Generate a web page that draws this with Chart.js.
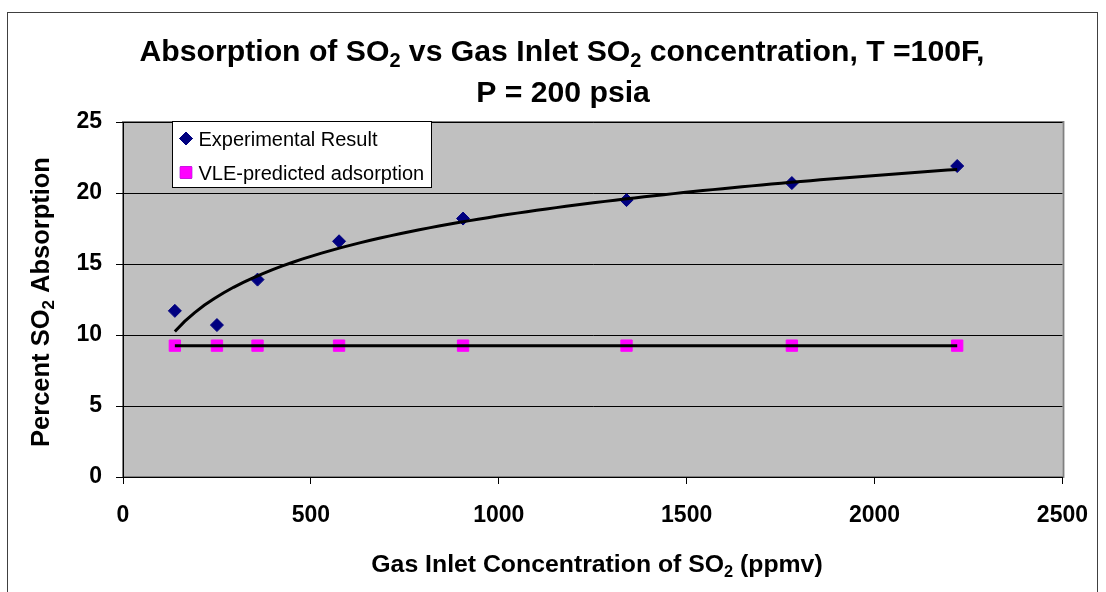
<!DOCTYPE html>
<html>
<head>
<meta charset="utf-8">
<title>Absorption of SO2 vs Gas Inlet SO2 concentration</title>
<script src="https://cdn.jsdelivr.net/npm/chart.js@4.4.1/dist/chart.umd.min.js"></script>
<style>
  html, body { margin: 0; padding: 0; background: #fff; }
  #grafico { display: block; }
</style>
</head>
<body>
<canvas id="grafico" width="1106" height="592"></canvas>
<script>
// Gas inlet SO2 concentration (ppmv) for each run
const concentracion = [138, 250, 358, 575, 905, 1340, 1780, 2220];
// Measured SO2 absorption (%)
const absorcionExperimental = [11.7, 10.7, 13.9, 16.6, 18.2, 19.5, 20.7, 21.9];
// VLE-predicted absorption (%)
const absorcionVLE = [9.25, 9.25, 9.25, 9.25, 9.25, 9.25, 9.25, 9.25];

const ticksX = [0, 500, 1000, 1500, 2000, 2500];
const ticksY = [0, 5, 10, 15, 20, 25];

const nombresSeries = ['Experimental Result', 'VLE-predicted adsorption'];
const tituloLineas = ['Absorption of SO₂ vs Gas Inlet SO₂ concentration, T =100F,', 'P = 200 psia'];
const tituloEjeX = 'Gas Inlet Concentration of SO₂ (ppmv)';
const tituloEjeY = 'Percent SO₂ Absorption';

const FUENTE = "'Liberation Sans', Arial, Helvetica, sans-serif";

// Logarithmic least-squares trendline y = a*ln(x) + b
function ajusteLog(xs, ys) {
    const lx = xs.map(Math.log);
    const n = xs.length;
    const mx = lx.reduce((s, v) => s + v, 0) / n;
    const my = ys.reduce((s, v) => s + v, 0) / n;
    let sxy = 0, sxx = 0;
    lx.forEach((v, i) => {
        sxy += (v - mx) * (ys[i] - my);
        sxx += (v - mx) * (v - mx);
    });
    const a = sxy / sxx;
    return x => a * Math.log(x) + (my - a * mx);
}

// Linear least-squares trendline
function ajusteLineal(xs, ys) {
    const n = xs.length;
    const mx = xs.reduce((s, v) => s + v, 0) / n;
    const my = ys.reduce((s, v) => s + v, 0) / n;
    let sxy = 0, sxx = 0;
    xs.forEach((v, i) => {
        sxy += (v - mx) * (ys[i] - my);
        sxx += (v - mx) * (v - mx);
    });
    const a = sxx ? sxy / sxx : 0;
    return x => a * x + (my - a * mx);
}

// Sample a fitted curve between the first and last measured concentration
function puntosTendencia(fn, xs, pasos) {
    const x0 = Math.min(...xs), x1 = Math.max(...xs);
    const puntos = [];
    for (let i = 0; i <= pasos; i++) {
        const x = x0 + (x1 - x0) * i / pasos;
        puntos.push({x: x, y: fn(x)});
    }
    return puntos;
}

// Bold text with real subscripts for the "₂" characters
function textoConSubindice(ctx, texto, x, y, size) {
    const partes = [];
    texto.split('₂').forEach((t, i) => {
        if (i > 0) partes.push({t: '2', sub: true});
        if (t) partes.push({t: t, sub: false});
    });
    const anchos = partes.map(p => {
        ctx.font = `bold ${p.sub ? size * 0.66 : size}px ${FUENTE}`;
        return ctx.measureText(p.t).width;
    });
    let cx = x - anchos.reduce((s, w) => s + w, 0) / 2;
    partes.forEach((p, i) => {
        ctx.font = `bold ${p.sub ? size * 0.66 : size}px ${FUENTE}`;
        ctx.fillText(p.t, cx, p.sub ? y + size * 0.2 : y);
        cx += anchos[i];
    });
}

const marco = {
    id: 'marco',
    beforeDraw(chart) {
        const {ctx, chartArea: a} = chart;
        ctx.save();
        ctx.fillStyle = '#fff';
        ctx.fillRect(0, 0, chart.width, chart.height);
        ctx.strokeStyle = '#404040';
        ctx.lineWidth = 1;
        ctx.strokeRect(7.5, 12.5, 1090, 620);
        ctx.fillStyle = '#c0c0c0';
        ctx.fillRect(a.left, a.top, a.right - a.left, a.bottom - a.top);
        ctx.strokeStyle = '#808080';
        ctx.lineWidth = 2;
        ctx.strokeRect(a.left, a.top, a.right - a.left + 1, a.bottom - a.top);
        ctx.restore();
    },
    afterDraw(chart) {
        const {ctx, chartArea: a} = chart;
        ctx.save();
        ctx.fillStyle = '#000';
        ctx.textAlign = 'left';
        ctx.textBaseline = 'alphabetic';

        // chart title
        textoConSubindice(ctx, tituloLineas[0], 562, 61, 30.2);
        textoConSubindice(ctx, tituloLineas[1], 563, 102, 30.2);

        // axis titles
        textoConSubindice(ctx, tituloEjeX, 597, 572, 24.8);
        ctx.save();
        ctx.translate(49, 302);
        ctx.rotate(-Math.PI / 2);
        textoConSubindice(ctx, tituloEjeY, 0, 0, 25.5);
        ctx.restore();

        // legend box in the upper left of the plot
        const caja = {x: 172.5, y: 121.5, w: 259, h: 66};
        ctx.fillStyle = '#fff';
        ctx.fillRect(caja.x, caja.y, caja.w, caja.h);
        ctx.strokeStyle = '#000';
        ctx.lineWidth = 1;
        ctx.strokeRect(caja.x, caja.y, caja.w, caja.h);

        ctx.font = `20px ${FUENTE}`;
        nombresSeries.forEach((nombre, i) => {
            const ds = chart.data.datasets[i];
            const cy = caja.y + 17 + i * 34;
            Chart.helpers.drawPoint(ctx, {
                pointStyle: ds.pointStyle,
                radius: ds.pointRadius,
                borderWidth: ds.pointBorderWidth
            }, caja.x + 13.5, cy);
            ctx.fillStyle = ds.backgroundColor;
            ctx.strokeStyle = ds.borderColor;
            ctx.fill();
            ctx.stroke();
            ctx.fillStyle = '#000';
            ctx.fillText(nombre, caja.x + 26, cy + 7);
        });
        ctx.restore();
    }
};

const tendenciaExp = puntosTendencia(ajusteLog(concentracion, absorcionExperimental), concentracion, 80);
const tendenciaVLE = puntosTendencia(ajusteLineal(concentracion, absorcionVLE), concentracion, 1);

const fuenteTicks = {family: FUENTE, size: 23, weight: 'bold'};

new Chart(document.getElementById('grafico'), {
    type: 'scatter',
    data: {
        datasets: [
            {
                label: nombresSeries[0],
                data: concentracion.map((x, i) => ({x: x, y: absorcionExperimental[i]})),
                pointStyle: 'rectRot',
                pointRadius: 6.5,
                pointBorderWidth: 1,
                backgroundColor: '#000080',
                borderColor: '#000080',
                order: 2
            },
            {
                label: nombresSeries[1],
                data: concentracion.map((x, i) => ({x: x, y: absorcionVLE[i]})),
                pointStyle: 'rect',
                pointRadius: 8,
                pointBorderWidth: 1,
                backgroundColor: '#ff00ff',
                borderColor: '#ff00ff',
                order: 2
            },
            {
                label: 'Log trend',
                data: tendenciaExp,
                showLine: true,
                borderColor: '#000',
                borderWidth: 3,
                pointRadius: 0,
                order: 1
            },
            {
                label: 'Linear trend',
                data: tendenciaVLE,
                showLine: true,
                borderColor: '#000',
                borderWidth: 3,
                pointRadius: 0,
                order: 1
            }
        ]
    },
    options: {
        responsive: false,
        animation: false,
        events: [],
        layout: {
            padding: {left: 8, right: 42, top: 122, bottom: 0}
        },
        plugins: {
            legend: {display: false},
            title: {display: false},
            tooltip: {enabled: false}
        },
        scales: {
            x: {
                type: 'linear',
                min: 0,
                max: 2500,
                afterBuildTicks: s => { s.ticks = ticksX.map(v => ({value: v})); },
                afterFit: s => { s.height = 115; },
                grid: {drawOnChartArea: false, color: '#000', tickLength: 7},
                border: {color: '#000', width: 1},
                ticks: {
                    font: fuenteTicks,
                    color: '#000',
                    padding: 18,
                    maxRotation: 0,
                    callback: v => String(v)
                }
            },
            y: {
                type: 'linear',
                min: 0,
                max: 25,
                afterBuildTicks: s => { s.ticks = ticksY.map(v => ({value: v})); },
                afterFit: s => { s.width = 115; },
                grid: {color: '#000', tickLength: 7},
                border: {color: '#000', width: 1},
                ticks: {font: fuenteTicks, color: '#000', padding: 14}
            }
        }
    },
    plugins: [marco]
});
</script>
</body>
</html>
